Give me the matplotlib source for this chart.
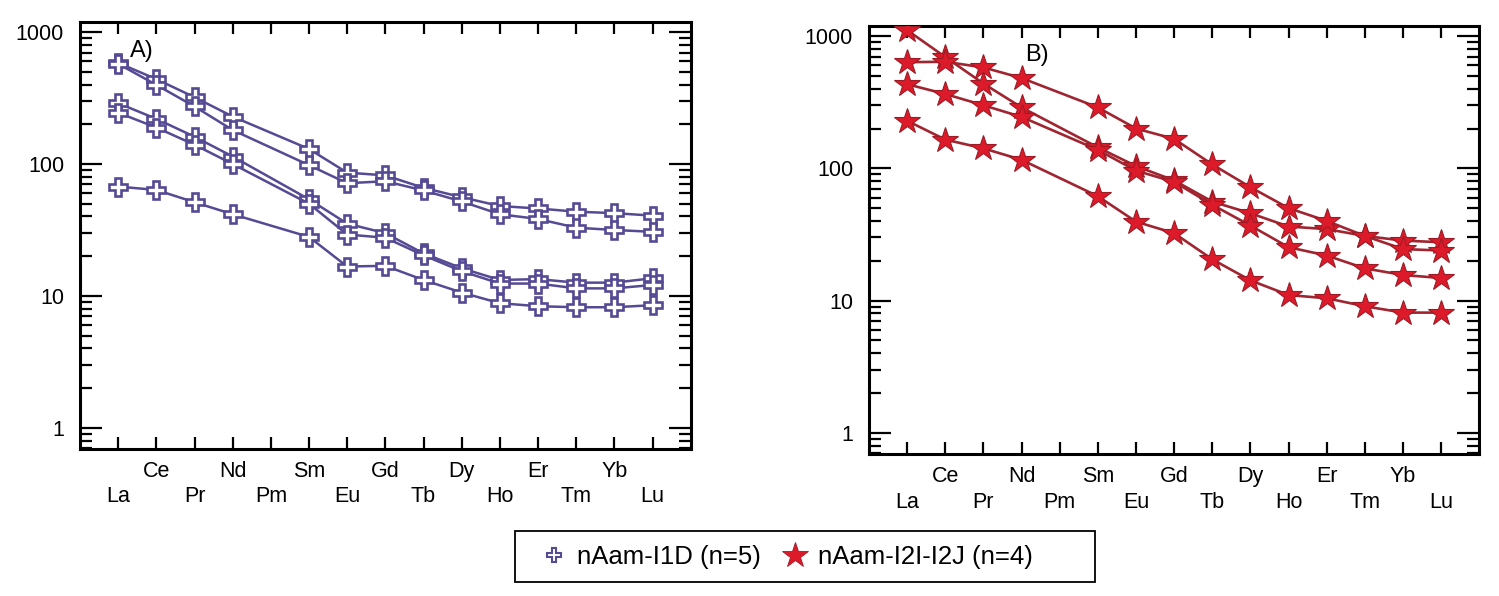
import matplotlib
matplotlib.use("Agg")
import matplotlib.pyplot as plt
import matplotlib.ticker as mticker
from matplotlib.transforms import offset_copy
from matplotlib.lines import Line2D
from matplotlib.patches import Rectangle

plt.rcParams['font.family'] = ['Liberation Sans', 'DejaVu Sans']

# ---- data ----
elements = ["La", "Ce", "Pr", "Nd", "Pm", "Sm", "Eu", "Gd", "Tb", "Dy", "Ho", "Er", "Tm", "Yb", "Lu"]
measured = ["La", "Ce", "Pr", "Nd", "Sm", "Eu", "Gd", "Tb", "Dy", "Ho", "Er", "Tm", "Yb", "Lu"]

group_a_label = "nAam-I1D (n=5)"
group_a = [
    [585, 440, 321, 229, 130, 86, 82, 66, 56, 48, 46, 43.5, 42.4, 40.6],
    [575, 398, 273, 181, 98, 71.5, 74, 63, 52, 41.6, 38.3, 32.9, 31.6, 30.6],
    [289, 220, 161, 114, 54, 35.3, 29.9, 21, 16.2, 13.2, 13.4, 12.6, 12.6, 13.6],
    [245, 189, 140, 100, 50, 29.2, 27.6, 20.3, 15.4, 12.4, 12.4, 11.4, 11.4, 12.1],
    [67.4, 63.6, 51.3, 41.6, 28, 16.7, 16.9, 13.2, 10.6, 8.8, 8.35, 8.2, 8.2, 8.5],
]

group_b_label = "nAam-I2I-I2J (n=4)"
group_b = [
    [1110, 695, 438, 289, 144, 104, 81, 56, 45.7, 36.3, 34.7, 30.8, 28.4, 27.6],
    [636, 640, 580, 482, 289, 200, 167, 107, 72, 50, 40, 30.8, 24.5, 23.9],
    [433, 365, 300, 245, 138, 96, 79, 53, 36.9, 25.3, 21.9, 17.5, 15.6, 14.8],
    [229, 165, 141.6, 116, 61.5, 39.5, 32.3, 20.5, 14.2, 11.0, 10.4, 9.05, 8.1, 8.1],
]

y_ticks = [1, 10, 100, 1000]
y_tick_labels = ["1", "10", "100", "1000"]
panel_labels = ["A)", "B)"]

# ---- style ----
purple = "#554a94"
red_face = "#dc1a2a"
red_edge = "#9e1a24"
red_line = "#a02530"

W, H = 1499, 596
fig = plt.figure(figsize=(W / 100, H / 100), dpi=100)

ax_a = fig.add_axes([80 / W, 1 - 449 / H, (690.7 - 80) / W, (449 - 21.7) / H])
ax_b = fig.add_axes([869 / W, 1 - 454 / H, (1479.3 - 869) / W, (454 - 25.7) / H])

xpos = {e: i + 1 for i, e in enumerate(elements)}
xs = [xpos[e] for e in measured]

for series in group_a:
    ax_a.plot(xs, series, color=purple, lw=1.8, marker="P", ms=12.5,
              mfc="white", mec=purple, mew=1.9, zorder=3)

for series in group_b:
    ax_b.plot(xs, series, color=red_line, lw=1.9, marker="*", ms=19,
              mfc=red_face, mec=red_edge, mew=0.8, zorder=3)

for ax, lab, lx, ly in [(ax_a, panel_labels[0], 1.3, 720), (ax_b, panel_labels[1], 4.1, 725)]:
    ax.set_yscale("log")
    ax.set_xlim(0, 16)
    ax.set_ylim(0.69, 1200)
    ax.set_yticks(y_ticks)
    ax.set_yticklabels(y_tick_labels)
    ax.yaxis.set_minor_locator(mticker.LogLocator(base=10, subs=range(2, 10), numticks=20))
    ax.yaxis.set_minor_formatter(mticker.NullFormatter())
    ax.set_xticks(list(range(1, 16)))
    ax.set_xticklabels([])
    ax.tick_params(axis="y", which="major", direction="in", length=15.5, width=1.6,
                   left=True, right=True, labelsize=15.5, pad=11.5)
    ax.tick_params(axis="y", which="minor", direction="in", length=8.5, width=1.6,
                   left=True, right=True)
    ax.tick_params(axis="x", which="major", direction="in", length=8.5, width=1.6,
                   top=True, bottom=True)
    ax.tick_params(axis="x", which="minor", bottom=False, top=False)
    for sp in ax.spines.values():
        sp.set_linewidth(2.2)
    ax.text(lx, ly, lab, fontsize=17, ha="left", va="center")
    # element labels in two staggered rows
    t_up = offset_copy(ax.get_xaxis_transform(), fig=fig, x=0, y=-28, units="dots")
    t_lo = offset_copy(ax.get_xaxis_transform(), fig=fig, x=0, y=-53.5, units="dots")
    for e in elements:
        i = xpos[e]
        tr = t_up if i % 2 == 0 else t_lo
        ax.text(i, 0, e, transform=tr, ha="center", va="baseline", fontsize=15.5, clip_on=False)

# legend
fig.patches.append(Rectangle((515 / W, 1 - 582 / H), 580 / W, 51 / H, transform=fig.transFigure,
                             fill=False, edgecolor="black", linewidth=1.3, zorder=5))
handles = [
    Line2D([], [], linestyle="none", marker="P", ms=10.5, mfc="white", mec=purple, mew=1.5),
    Line2D([], [], linestyle="none", marker="*", ms=19, mfc=red_face, mec=red_edge, mew=0.6),
]
fig.legend(handles, [group_a_label, group_b_label], loc="center left",
           bbox_to_anchor=(540 / W, 1 - 557 / H), ncol=2, frameon=False, fontsize=18.5,
           handlelength=1.1, handletextpad=0.35, columnspacing=0.75, borderpad=0,
           borderaxespad=0)

fig.savefig("out.png", dpi=100)
